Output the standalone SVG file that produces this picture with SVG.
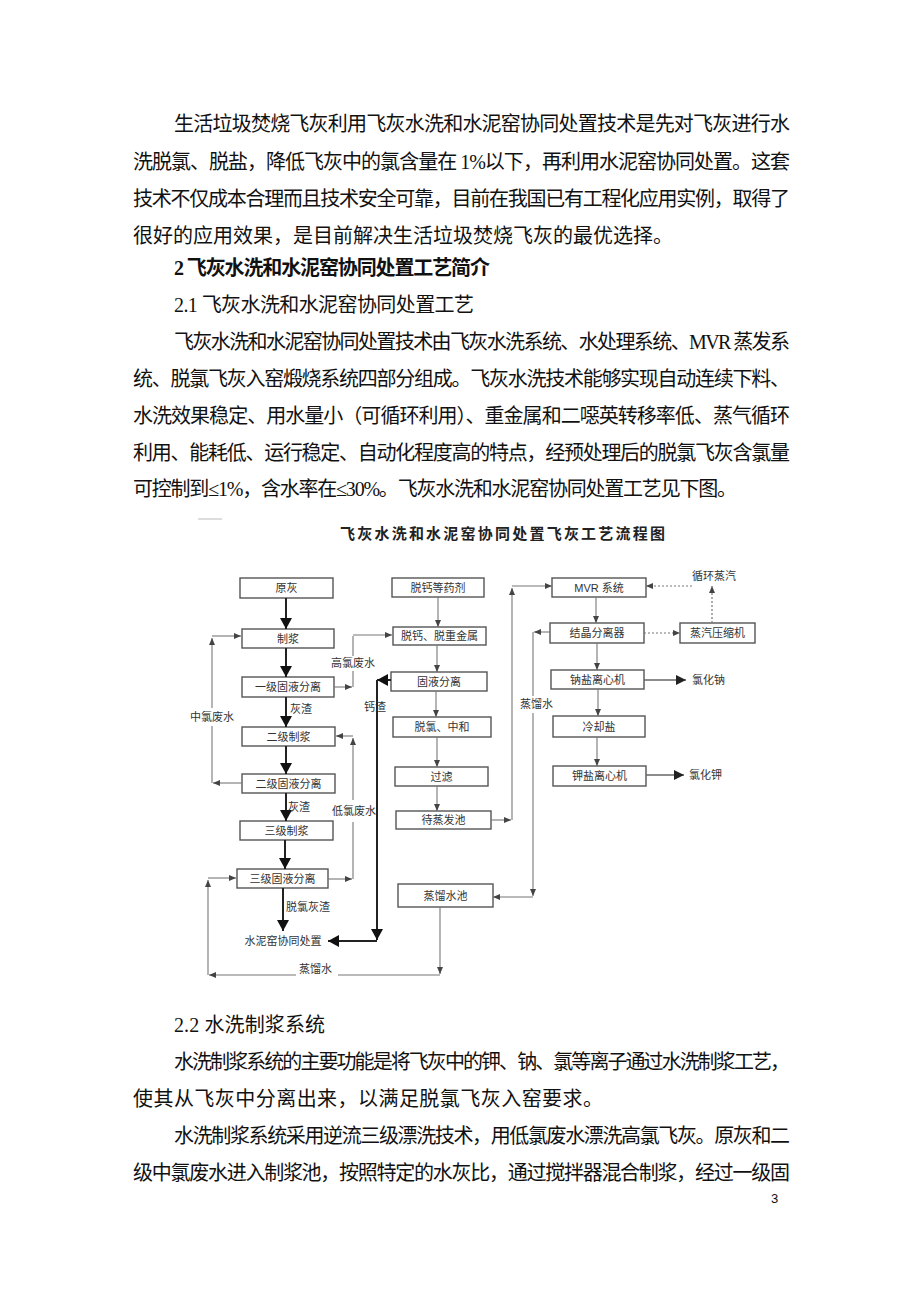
<svg xmlns="http://www.w3.org/2000/svg" width="920" height="1302" viewBox="0 0 920 1302">
<style>
.body{font-family:"Liberation Serif","Noto Sans CJK SC",serif;font-size:20px;fill:#111;dominant-baseline:central}
.hd{font-weight:bold}
.bx{fill:#fff;stroke:#555;stroke-width:1.4}
.bt{font-family:"Liberation Sans","Noto Sans CJK SC",sans-serif;font-size:11px;fill:#333;text-anchor:middle;dominant-baseline:central}
.lb{font-family:"Liberation Sans","Noto Sans CJK SC",sans-serif;font-size:11px;fill:#333;dominant-baseline:central}
.thick{stroke:#222;stroke-width:2;fill:none}
.thin{stroke:#777;stroke-width:1.1;fill:none}
.dash{stroke:#777;stroke-width:1.2;fill:none;stroke-dasharray:2 2}
</style>
<defs>
<marker id="big" markerUnits="userSpaceOnUse" markerWidth="12" markerHeight="12" refX="11" refY="6" orient="auto"><path d="M0,0 L11,6 L0,12 Z" fill="#111"/></marker>
<marker id="sm" markerUnits="userSpaceOnUse" markerWidth="7" markerHeight="6" refX="7" refY="3" orient="auto"><path d="M0,0 L7,3 L0,6 Z" fill="#444"/></marker>
<marker id="md" markerUnits="userSpaceOnUse" markerWidth="10" markerHeight="10" refX="10" refY="5" orient="auto"><path d="M0,0 L10,5 L0,10 Z" fill="#222"/></marker>
</defs>
<rect width="920" height="1302" fill="#fff"/>

<g id="text-top">
<text class="body" x="174" y="124" textLength="616" lengthAdjust="spacing">生活垃圾焚烧飞灰利用飞灰水洗和水泥窑协同处置技术是先对飞灰进行水</text>
<text class="body" x="133" y="162" textLength="657" lengthAdjust="spacing">洗脱氯、脱盐，降低飞灰中的氯含量在 1%以下，再利用水泥窑协同处置。这套</text>
<text class="body" x="133" y="199" textLength="657" lengthAdjust="spacing">技术不仅成本合理而且技术安全可靠，目前在我国已有工程化应用实例，取得了</text>
<text class="body" x="133" y="236" textLength="540" lengthAdjust="spacing">很好的应用效果，是目前解决生活垃圾焚烧飞灰的最优选择。</text>
<text class="body hd" x="174" y="268" textLength="316" lengthAdjust="spacing">2 飞灰水洗和水泥窑协同处置工艺简介</text>
<text class="body" x="174" y="305" textLength="300" lengthAdjust="spacing">2.1  飞灰水洗和水泥窑协同处置工艺</text>
<text class="body" x="174" y="342" textLength="616" lengthAdjust="spacing">飞灰水洗和水泥窑协同处置技术由飞灰水洗系统、水处理系统、MVR 蒸发系</text>
<text class="body" x="133" y="379" textLength="657" lengthAdjust="spacing">统、脱氯飞灰入窑煅烧系统四部分组成。飞灰水洗技术能够实现自动连续下料、</text>
<text class="body" x="133" y="416" textLength="657" lengthAdjust="spacing">水洗效果稳定、用水量小（可循环利用）、重金属和二噁英转移率低、蒸气循环</text>
<text class="body" x="133" y="453" textLength="657" lengthAdjust="spacing">利用、能耗低、运行稳定、自动化程度高的特点，经预处理后的脱氯飞灰含氯量</text>
<text class="body" x="133" y="489" textLength="604" lengthAdjust="spacing">可控制到≤1%，含水率在≤30%。飞灰水洗和水泥窑协同处置工艺见下图。</text>
</g>

<g id="figure-title">
<line x1="198" y1="519" x2="222" y2="519" stroke="#bbb" stroke-width="1"/>
<text x="340" y="532" textLength="325" lengthAdjust="spacing" style="font-family:'Noto Sans CJK SC',sans-serif;font-size:15px;font-weight:bold;fill:#222;dominant-baseline:central">飞灰水洗和水泥窑协同处置飞灰工艺流程图</text>
</g>

<g id="n-yuanhui"><rect class="bx" x="240" y="578" width="93" height="20"/><text class="bt" x="286.5" y="588">原灰</text></g>
<g id="n-zhijiang"><rect class="bx" x="242" y="629" width="92" height="19"/><text class="bt" x="288" y="638.5">制浆</text></g>
<g id="n-yiji"><rect class="bx" x="242" y="677" width="92" height="20"/><text class="bt" x="288" y="687">一级固液分离</text></g>
<g id="n-erjizhijiang"><rect class="bx" x="242" y="727" width="93" height="19"/><text class="bt" x="288.5" y="736.5">二级制浆</text></g>
<g id="n-erji"><rect class="bx" x="242" y="774" width="93" height="19"/><text class="bt" x="288.5" y="783.5">二级固液分离</text></g>
<g id="n-sanjizhijiang"><rect class="bx" x="240" y="821" width="93" height="19"/><text class="bt" x="286.5" y="830.5">三级制浆</text></g>
<g id="n-sanji"><rect class="bx" x="237" y="869" width="91" height="19"/><text class="bt" x="282.5" y="878.5">三级固液分离</text></g>
<g id="n-shuiniyao"><text class="bt" x="283" y="941">水泥窑协同处置</text></g>

<g id="n-yaoji"><rect class="bx" x="392" y="578" width="92" height="19"/><text class="bt" x="438" y="587.5">脱钙等药剂</text></g>
<g id="n-tuogai"><rect class="bx" x="393" y="627" width="93" height="18"/><text class="bt" x="439.5" y="636">脱钙、脱重金属</text></g>
<g id="n-guye"><rect class="bx" x="391" y="672" width="96" height="19"/><text class="bt" x="439" y="681.5">固液分离</text></g>
<g id="n-tuolv"><rect class="bx" x="393" y="717" width="98" height="20"/><text class="bt" x="442" y="727">脱氯、中和</text></g>
<g id="n-guolv"><rect class="bx" x="395" y="767" width="93" height="19"/><text class="bt" x="441.5" y="776.5">过滤</text></g>
<g id="n-daizhengfa"><rect class="bx" x="396" y="811" width="95" height="18"/><text class="bt" x="443.5" y="820">待蒸发池</text></g>
<g id="n-zhengliu"><rect class="bx" x="398" y="884" width="95" height="23"/><text class="bt" x="445.5" y="895.5">蒸馏水池</text></g>

<g id="n-mvr"><rect class="bx" x="552" y="578" width="94" height="19"/><text class="bt" x="599" y="587.5">MVR 系统</text></g>
<g id="n-jiejing"><rect class="bx" x="550" y="623" width="94" height="20"/><text class="bt" x="597" y="633">结晶分离器</text></g>
<g id="n-yasuo"><rect class="bx" x="680" y="623" width="75" height="20"/><text class="bt" x="717.5" y="633">蒸汽压缩机</text></g>
<g id="n-nayan"><rect class="bx" x="551" y="670" width="93" height="19"/><text class="bt" x="597.5" y="679.5">钠盐离心机</text></g>
<g id="n-lengque"><rect class="bx" x="553" y="716" width="92" height="21"/><text class="bt" x="599" y="726.5">冷却盐</text></g>
<g id="n-jiayan"><rect class="bx" x="553" y="766" width="93" height="20"/><text class="bt" x="599.5" y="776">钾盐离心机</text></g>
<g id="n-xunhuan"><text class="bt" x="714" y="576">循环蒸汽</text></g>
<g id="n-lvhuana"><text class="lb" x="692" y="680">氯化钠</text></g>
<g id="n-lvhuajia"><text class="lb" x="689" y="775">氯化钾</text></g>

<g id="connectors">
<!-- main ash line -->
<line class="thick" x1="286" y1="598" x2="286" y2="629" marker-end="url(#big)"/>
<line class="thick" x1="286" y1="648" x2="286" y2="677" marker-end="url(#big)"/>
<line class="thick" x1="286" y1="697" x2="286" y2="727" marker-end="url(#big)"/>
<line class="thick" x1="286" y1="746" x2="286" y2="774" marker-end="url(#big)"/>
<line class="thick" x1="286" y1="793" x2="286" y2="821" marker-end="url(#big)"/>
<line class="thick" x1="285" y1="840" x2="285" y2="869" marker-end="url(#big)"/>
<line class="thick" x1="283" y1="888" x2="283" y2="931" marker-end="url(#big)"/>
<!-- calcium residue -->
<line class="thick" x1="391" y1="680" x2="377" y2="680" marker-end="url(#big)"/>
<line class="thick" x1="377" y1="680" x2="377" y2="940" marker-end="url(#big)"/>
<line class="thick" x1="377" y1="941" x2="328" y2="941" marker-end="url(#big)"/>
<!-- high chloride water -->
<line class="thin" x1="334" y1="687" x2="352" y2="687" marker-end="url(#sm)"/>
<line class="thin" x1="353" y1="687" x2="353" y2="671"/>
<line class="thin" x1="353" y1="656" x2="353" y2="636"/>
<line class="thin" x1="353" y1="635" x2="392" y2="635" marker-end="url(#sm)"/>
<!-- middle chloride water -->
<line class="thin" x1="242" y1="783" x2="213" y2="783" marker-end="url(#sm)"/>
<line class="thin" x1="212" y1="783" x2="212" y2="726"/>
<line class="thin" x1="212" y1="708" x2="212" y2="638" marker-end="url(#sm)"/>
<line class="thin" x1="212" y1="636" x2="241" y2="636" marker-end="url(#sm)"/>
<!-- low chloride water -->
<line class="thin" x1="328" y1="879" x2="352" y2="879" marker-end="url(#sm)"/>
<line class="thin" x1="353" y1="879" x2="353" y2="822"/>
<line class="thin" x1="353" y1="800" x2="353" y2="738" marker-end="url(#sm)"/>
<line class="thin" x1="353" y1="736" x2="336" y2="736" marker-end="url(#sm)"/>
<!-- distilled water bottom loop -->
<line class="thin" x1="440" y1="907" x2="440" y2="974" marker-end="url(#sm)"/>
<line class="thin" x1="440" y1="975" x2="338" y2="975"/>
<line class="thin" x1="296" y1="975" x2="209" y2="975" marker-end="url(#sm)"/>
<line class="thin" x1="208" y1="975" x2="208" y2="880" marker-end="url(#sm)"/>
<line class="thin" x1="208" y1="878" x2="236" y2="878" marker-end="url(#sm)"/>
<!-- middle column -->
<line class="thin" x1="438" y1="597" x2="438" y2="627" marker-end="url(#sm)"/>
<line class="thin" x1="437" y1="645" x2="437" y2="672" marker-end="url(#sm)"/>
<line class="thin" x1="436" y1="691" x2="436" y2="717" marker-end="url(#sm)"/>
<line class="thin" x1="437" y1="737" x2="437" y2="767" marker-end="url(#sm)"/>
<line class="thin" x1="437" y1="786" x2="437" y2="811" marker-end="url(#sm)"/>
<!-- to MVR -->
<line class="thin" x1="491" y1="820" x2="511" y2="820" marker-end="url(#sm)"/>
<line class="thin" x1="512" y1="820" x2="512" y2="588" marker-end="url(#sm)"/>
<line class="thin" x1="512" y1="586" x2="552" y2="586" marker-end="url(#sm)"/>
<!-- distilled water from crystallizer -->
<line class="thin" x1="550" y1="632" x2="534" y2="632" marker-end="url(#sm)"/>
<line class="thin" x1="533" y1="632" x2="533" y2="696"/>
<line class="thin" x1="533" y1="713" x2="533" y2="896" marker-end="url(#sm)"/>
<line class="thin" x1="533" y1="897" x2="493" y2="897" marker-end="url(#sm)"/>
<!-- right column -->
<line class="thin" x1="596" y1="597" x2="596" y2="623" marker-end="url(#sm)"/>
<line class="thin" x1="597" y1="643" x2="597" y2="670" marker-end="url(#sm)"/>
<line class="thin" x1="598" y1="689" x2="598" y2="716" marker-end="url(#sm)"/>
<line class="thin" x1="597" y1="737" x2="597" y2="766" marker-end="url(#sm)"/>
<line x1="644" y1="680" x2="686" y2="680" stroke="#666" stroke-width="1.6" marker-end="url(#md)"/>
<line x1="646" y1="775" x2="684" y2="775" stroke="#666" stroke-width="1.6" marker-end="url(#md)"/>
<line class="dash" x1="644" y1="633" x2="680" y2="633" marker-end="url(#sm)"/>
<line class="dash" x1="712" y1="623" x2="712" y2="586" marker-end="url(#sm)"/>
<line class="dash" x1="692" y1="586" x2="646" y2="586" marker-end="url(#sm)"/>
<!-- labels -->
<text class="lb" x="290" y="709">灰渣</text>
<text class="lb" x="288" y="807">灰渣</text>
<text class="lb" x="286" y="907">脱氯灰渣</text>
<text class="lb" x="364" y="707">钙渣</text>
<text class="lb" x="331" y="663">高氯废水</text>
<text class="lb" x="190" y="717">中氯废水</text>
<text class="lb" x="332" y="811">低氯废水</text>
<text class="lb" x="299" y="969">蒸馏水</text>
<text class="lb" x="520" y="704">蒸馏水</text>
</g>

<g id="text-bottom">
<text class="body" x="174" y="1025" textLength="151" lengthAdjust="spacing">2.2  水洗制浆系统</text>
<text class="body" x="174" y="1062" textLength="616" lengthAdjust="spacing">水洗制浆系统的主要功能是将飞灰中的钾、钠、氯等离子通过水洗制浆工艺，</text>
<text class="body" x="133" y="1099" textLength="470" lengthAdjust="spacing">使其从飞灰中分离出来，以满足脱氯飞灰入窑要求。</text>
<text class="body" x="174" y="1136" textLength="616" lengthAdjust="spacing">水洗制浆系统采用逆流三级漂洗技术，用低氯废水漂洗高氯飞灰。原灰和二</text>
<text class="body" x="133" y="1173" textLength="657" lengthAdjust="spacing">级中氯废水进入制浆池，按照特定的水灰比，通过搅拌器混合制浆，经过一级固</text>
<text x="771" y="1198" style="font-family:'Liberation Sans',sans-serif;font-size:13px;fill:#111;dominant-baseline:central">3</text>
</g>
</svg>
